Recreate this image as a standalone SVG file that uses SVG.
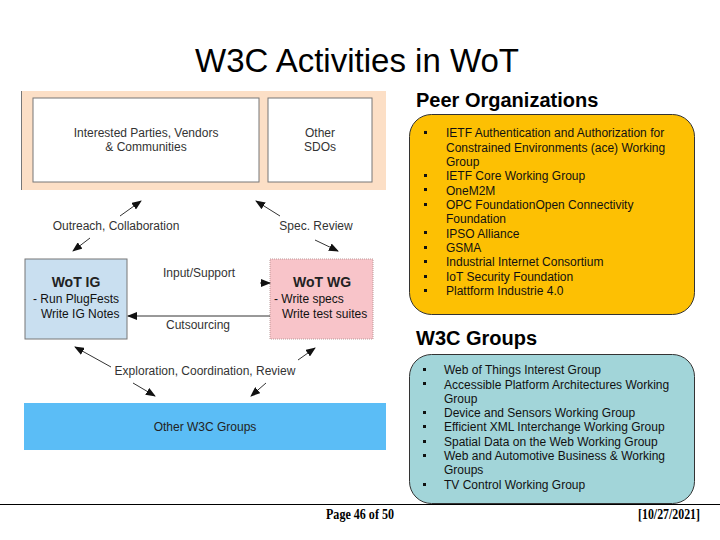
<svg xmlns="http://www.w3.org/2000/svg" width="720" height="540" viewBox="0 0 720 540">
<defs>
<style>
.t{font-family:"Liberation Sans",Arial,sans-serif;fill:#222}
.d{font-size:12px;fill:#333}
.b{font-size:12px;fill:#111}
.h{font-size:20px;font-weight:bold;fill:#000}
.ttl{font-size:33px;fill:#000}
.ln{stroke:#333;stroke-width:1;fill:none}
.bul{fill:#111}
.ft{font-family:"Liberation Serif","Times New Roman",serif;font-size:15px;font-weight:bold;fill:#000}
</style>
<marker id="ah" markerWidth="10" markerHeight="8" refX="9" refY="4" orient="auto" markerUnits="userSpaceOnUse">
<path d="M0,0 L10,4 L0,8 z" fill="#111"/>
</marker>
</defs>
<rect width="720" height="540" fill="#fff"/>
<text class="t ttl" x="357" y="72" text-anchor="middle">W3C Activities in WoT</text>

<g id="peer-band">
<rect x="21" y="91" width="365" height="99" fill="#fcdfc6"/>
<line x1="21.5" y1="91" x2="21.5" y2="190" stroke="#777" stroke-width="1"/>
</g>
<g id="interested">
<rect x="33" y="98" width="226" height="84" fill="#fff" stroke="#777" stroke-width="1"/>
<text class="t d" x="146" y="137" text-anchor="middle">Interested Parties, Vendors</text>
<text class="t d" x="146" y="151" text-anchor="middle">&amp; Communities</text>
</g>
<g id="sdos">
<rect x="268" y="98" width="104" height="84" fill="#fff" stroke="#777" stroke-width="1"/>
<text class="t d" x="320" y="137" text-anchor="middle">Other</text>
<text class="t d" x="320" y="151" text-anchor="middle">SDOs</text>
</g>
<g id="wot-ig">
<rect x="25" y="259" width="102" height="80" fill="#c9dff0" stroke="#777" stroke-width="1"/>
<text class="t" x="76" y="287" text-anchor="middle" font-size="14" font-weight="bold" fill="#111">WoT IG</text>
<text class="t b" x="33" y="303">- Run PlugFests</text>
<text class="t b" x="41" y="318">Write IG Notes</text>
</g>
<g id="wot-wg">
<rect x="270" y="259" width="103" height="80" fill="#f8c4c9" stroke="#b99" stroke-width="1" stroke-dasharray="1,1"/>
<text class="t" x="322" y="287" text-anchor="middle" font-size="14" font-weight="bold" fill="#111">WoT WG</text>
<text class="t b" x="274" y="303">- Write specs</text>
<text class="t b" x="282" y="318">Write test suites</text>
</g>
<g id="other-w3c">
<rect x="24" y="403" width="362" height="47" fill="#5bbdf6"/>
<text class="t" x="205" y="431" text-anchor="middle" font-size="12" fill="#1a2a55">Other W3C Groups</text>
</g>

<g id="connectors">
<path class="ln" d="M120,216 L141,201" marker-end="url(#ah)"/>
<path class="ln" d="M90,238 L73,251" marker-end="url(#ah)"/>
<path class="ln" d="M280,216 L256,201" marker-end="url(#ah)"/>
<path class="ln" d="M315,240 L338,251" marker-end="url(#ah)"/>
<path class="ln" d="M260,283 L270,283" marker-end="url(#ah)"/>
<path class="ln" d="M270,316 L128,316" marker-end="url(#ah)"/>
<path class="ln" d="M111,367 L75,347" marker-end="url(#ah)"/>
<path class="ln" d="M133,383 L155,396" marker-end="url(#ah)"/>
<path class="ln" d="M298,360 L315,348" marker-end="url(#ah)"/>
<path class="ln" d="M266,383 L251,396" marker-end="url(#ah)"/>
<text class="t d" x="116" y="230" text-anchor="middle">Outreach, Collaboration</text>
<text class="t d" x="316" y="230" text-anchor="middle">Spec. Review</text>
<text class="t d" x="199" y="277" text-anchor="middle">Input/Support</text>
<text class="t d" x="198" y="329" text-anchor="middle">Cutsourcing</text>
<text class="t d" x="205" y="375" text-anchor="middle">Exploration, Coordination, Review</text>
</g>

<g id="peer-orgs">
<text class="t h" x="416" y="107">Peer Organizations</text>
<rect x="409.5" y="114.5" width="285" height="200" rx="22" fill="#fdc003" stroke="#333" stroke-width="1"/>
<g class="bul">
<rect x="424" y="131" width="3" height="3"/>
<rect x="424" y="174" width="3" height="3"/>
<rect x="424" y="188" width="3" height="3"/>
<rect x="424" y="203" width="3" height="3"/>
<rect x="424" y="231" width="3" height="3"/>
<rect x="424" y="246" width="3" height="3"/>
<rect x="424" y="260" width="3" height="3"/>
<rect x="424" y="275" width="3" height="3"/>
<rect x="424" y="289" width="3" height="3"/>
</g>
<text class="t b" x="446" y="137">IETF Authentication and Authorization for</text>
<text class="t b" x="446" y="151.5">Constrained Environments (ace) Working</text>
<text class="t b" x="446" y="166">Group</text>
<text class="t b" x="446" y="180">IETF Core Working Group</text>
<text class="t b" x="446" y="194.5">OneM2M</text>
<text class="t b" x="446" y="209">OPC FoundationOpen Connectivity</text>
<text class="t b" x="446" y="223">Foundation</text>
<text class="t b" x="446" y="237.5">IPSO Alliance</text>
<text class="t b" x="446" y="252">GSMA</text>
<text class="t b" x="446" y="266">Industrial Internet Consortium</text>
<text class="t b" x="446" y="280.5">IoT Security Foundation</text>
<text class="t b" x="446" y="295">Plattform Industrie 4.0</text>
</g>

<g id="w3c-groups">
<text class="t h" x="416" y="345">W3C Groups</text>
<rect x="409.5" y="354.5" width="285" height="149" rx="22" fill="#a2d5d9" stroke="#333" stroke-width="1"/>
<g class="bul">
<rect x="423" y="368" width="3" height="3"/>
<rect x="423" y="382" width="3" height="3"/>
<rect x="423" y="411" width="3" height="3"/>
<rect x="423" y="425" width="3" height="3"/>
<rect x="423" y="440" width="3" height="3"/>
<rect x="423" y="454" width="3" height="3"/>
<rect x="423" y="483" width="3" height="3"/>
</g>
<text class="t b" x="444" y="374">Web of Things Interest Group</text>
<text class="t b" x="444" y="388.5">Accessible Platform Architectures Working</text>
<text class="t b" x="444" y="402.5">Group</text>
<text class="t b" x="444" y="417">Device and Sensors Working Group</text>
<text class="t b" x="444" y="431">Efficient XML Interchange Working Group</text>
<text class="t b" x="444" y="445.5">Spatial Data on the Web Working Group</text>
<text class="t b" x="444" y="460">Web and Automotive Business &amp; Working</text>
<text class="t b" x="444" y="474">Groups</text>
<text class="t b" x="444" y="488.5">TV Control Working Group</text>
</g>

<g id="footer">
<line x1="0" y1="504.5" x2="720" y2="504.5" stroke="#000" stroke-width="1"/>
<text class="ft" x="360" y="519" text-anchor="middle" textLength="68" lengthAdjust="spacingAndGlyphs">Page 46 of 50</text>
<text class="ft" x="700" y="519" text-anchor="end" textLength="62" lengthAdjust="spacingAndGlyphs">[10/27/2021]</text>
</g>
</svg>
